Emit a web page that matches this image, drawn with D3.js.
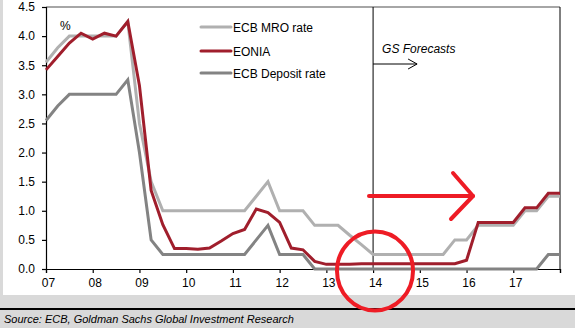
<!DOCTYPE html>
<html><head><meta charset="utf-8">
<script src="https://cdn.jsdelivr.net/npm/d3@7"></script>
<style>html,body{margin:0;padding:0;background:#d9d9d9;}svg{display:block;}</style>
</head><body>
<svg id="c" width="575" height="328"></svg>
<script>
const quarters = [2007.00,2007.25,2007.50,2007.75,2008.00,2008.25,2008.50,2008.75,2009.00,2009.25,2009.50,2009.75,
2010.00,2010.25,2010.50,2010.75,2011.00,2011.25,2011.50,2011.75,2012.00,2012.25,2012.50,2012.75,
2013.00,2013.25,2013.50,2013.75,2014.00,2014.25,2014.50,2014.75,2015.00,2015.25,2015.50,2015.75,
2016.00,2016.25,2016.50,2016.75,2017.00,2017.25,2017.50,2017.75,2018.00];
const mro = [3.55,3.80,4.00,4.00,4.00,4.00,4.00,4.25,2.50,1.50,1.00,1.00,
1.00,1.00,1.00,1.00,1.00,1.00,1.25,1.50,1.00,1.00,1.00,0.75,
0.75,0.75,0.58,0.42,0.25,0.25,0.25,0.25,0.25,0.25,0.25,0.50,
0.50,0.75,0.75,0.75,0.75,1.00,1.00,1.25,1.25];
const eonia = [3.42,3.65,3.88,4.05,3.95,4.05,4.00,4.25,3.15,1.35,0.76,0.35,
0.35,0.34,0.36,0.48,0.61,0.68,1.03,0.97,0.80,0.36,0.33,0.13,
0.08,0.08,0.08,0.09,0.09,0.09,0.09,0.09,0.09,0.09,0.09,0.09,
0.15,0.80,0.80,0.80,0.80,1.05,1.05,1.30,1.30];
const deposit = [2.55,2.80,3.00,3.00,3.00,3.00,3.00,3.25,2.00,0.50,0.25,0.25,
0.25,0.25,0.25,0.25,0.25,0.25,0.50,0.75,0.25,0.25,0.25,0.00,
0.00,0.00,0.00,0.00,0.00,0.00,0.00,0.00,0.00,0.00,0.00,0.00,
0.00,0.00,0.00,0.00,0.00,0.00,0.00,0.25,0.25];
const xTicks = [2007,2008,2009,2010,2011,2012,2013,2014,2015,2016,2017,2018];
const xTickLabels = ["07","08","09","10","11","12","13","14","15","16","17",""];
const yTicks = [0,0.5,1,1.5,2,2.5,3,3.5,4,4.5];
const seriesNames = ["ECB MRO rate","EONIA","ECB Deposit rate"];
const forecastStart = 2014;

const svg = d3.select("#c");
const font = "'Liberation Sans', Arial, sans-serif";
// white panel
svg.append("rect").attr("x",3).attr("y",0).attr("width",572).attr("height",295).attr("fill","#fff");
// footer line
svg.append("rect").attr("x",0).attr("y",308).attr("width",575).attr("height",2).attr("fill","#000");
svg.append("text").attr("x",4).attr("y",323).attr("font-family",font).attr("font-size",11)
  .attr("font-style","italic").attr("fill","#000").text("Source: ECB, Goldman Sachs Global Investment Research");

const x = d3.scaleLinear().domain([2007,2018]).range([46,560]);
const y = d3.scaleLinear().domain([0,4.5]).range([269,7]);

// frame top & right
svg.append("line").attr("x1",46).attr("x2",560).attr("y1",y(4.5)).attr("y2",y(4.5)).attr("stroke","#888").attr("stroke-width",1.5);
svg.append("line").attr("x1",560).attr("x2",560).attr("y1",y(4.5)).attr("y2",y(0)).attr("stroke","#000").attr("stroke-width",1);

// axes
const yAxis = svg.append("g").attr("transform","translate(46,0)")
  .call(d3.axisLeft(y).tickValues(yTicks).tickFormat(d3.format(".1f")).tickSize(4).tickPadding(7));
const xAxis = svg.append("g").attr("transform",`translate(0,${y(0)})`)
  .call(d3.axisBottom(x).tickValues(xTicks).tickFormat((d,i)=>xTickLabels[i]).tickSize(4).tickPadding(5));
[yAxis,xAxis].forEach(g=>{
  g.selectAll("text").attr("font-family",font).attr("font-size",12).attr("fill","#000");
  g.selectAll("line,path").attr("stroke","#000").attr("stroke-width",1.2);
});
xAxis.selectAll("text").attr("dx",2);

// forecast divider
svg.append("line").attr("x1",x(forecastStart)).attr("x2",x(forecastStart)).attr("y1",y(4.5)).attr("y2",y(0)).attr("stroke","#000").attr("stroke-width",1);
svg.append("text").attr("x",x(forecastStart)+9).attr("y",53).attr("font-family",font).attr("font-size",12)
  .attr("font-style","italic").text("GS Forecasts");
svg.append("line").attr("x1",x(forecastStart)).attr("x2",x(forecastStart)+44).attr("y1",64).attr("y2",64).attr("stroke","#000").attr("stroke-width",1);
svg.append("path").attr("d",`M${x(forecastStart)+35},59 L${x(forecastStart)+44},64 L${x(forecastStart)+35},69`)
  .attr("fill","none").attr("stroke","#000").attr("stroke-width",1);

svg.append("text").attr("x",60).attr("y",30).attr("font-family",font).attr("font-size",12).text("%");

const colors = ["#b0b0b0","#a01e2c","#838383"];
const data = [mro, eonia, deposit];
const line = d3.line().x((d,i)=>x(quarters[i])).y(d=>y(d));
[0,2,1].forEach(k=>{
  svg.append("path").datum(data[k]).attr("d",line).attr("fill","none")
    .attr("stroke",colors[k]).attr("stroke-width",3).attr("stroke-linejoin","miter");
});

// legend
const legY = [27,51,73];
seriesNames.forEach((n,k)=>{
  svg.append("line").attr("x1",201).attr("x2",231).attr("y1",legY[k]).attr("y2",legY[k])
    .attr("stroke",colors[k]).attr("stroke-width",3).attr("stroke-linecap","round");
  svg.append("text").attr("x",233).attr("y",legY[k]+4.5).attr("font-family",font).attr("font-size",12).text(n);
});

// red annotations
const red = "#ee1c25";
svg.append("ellipse").attr("cx",375).attr("cy",271).attr("rx",38).attr("ry",39.5)
  .attr("fill","none").attr("stroke",red).attr("stroke-width",4);
svg.append("line").attr("x1",369).attr("x2",473).attr("y1",196).attr("y2",196)
  .attr("stroke",red).attr("stroke-width",4).attr("stroke-linecap","round");
svg.append("path").attr("d","M453,173 L473,196 L451,219").attr("fill","none")
  .attr("stroke",red).attr("stroke-width",4).attr("stroke-linecap","round").attr("stroke-linejoin","round");
</script>
</body></html>
